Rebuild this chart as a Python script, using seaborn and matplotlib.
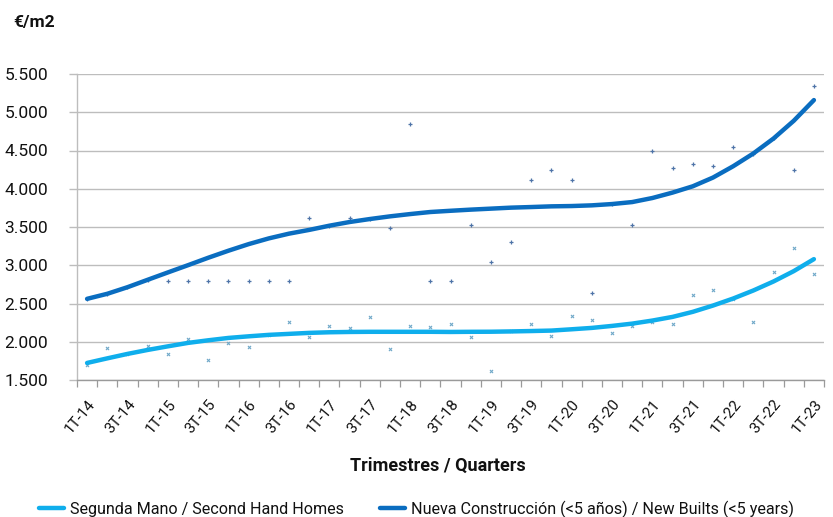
import matplotlib
matplotlib.use("Agg")
import matplotlib.pyplot as plt
from matplotlib.ticker import FuncFormatter, FixedLocator
import seaborn as sns
import pandas as pd
import numpy as np

quarters = ["1T-14", "2T-14", "3T-14", "4T-14", "1T-15", "2T-15", "3T-15", "4T-15",
            "1T-16", "2T-16", "3T-16", "4T-16", "1T-17", "2T-17", "3T-17", "4T-17",
            "1T-18", "2T-18", "3T-18", "4T-18", "1T-19", "2T-19", "3T-19", "4T-19",
            "1T-20", "2T-20", "3T-20", "4T-20", "1T-21", "2T-21", "3T-21", "4T-21",
            "1T-22", "2T-22", "3T-22", "4T-22", "1T-23"]

second_hand = [1700, 1920, 1840, 1945, 1841, 2032, 1766, 1989, 1936, 2090,
               2264, 2058, 2211, 2185, 2325, 1906, 2202, 2194, 2228, 2058,
               1622, 2135, 2237, 2080, 2342, 2281, 2120, 2202, 2255, 2237,
               2608, 2679, 2565, 2264, 2910, 3224, 2883]

new_builds = [2560, 2627, 2713, 2810, 2800, 2800, 2800, 2800, 2800, 2800,
              2800, 3620, 3517, 3620, 3604, 3490, 4850, 2800, 2800, 3530,
              3040, 3300, 4110, 4250, 4110, 2640, 3800, 3520, 4490, 4265,
              4320, 4300, 4550, 4460, 4657, 4250, 5345]

# trend lines
second_hand_trend = [1723, 1783, 1841, 1893, 1940, 1985, 2019, 2050, 2071, 2090,
                     2103, 2116, 2124, 2128, 2130, 2130, 2130, 2130, 2128, 2130,
                     2131, 2135, 2140, 2146, 2163, 2181, 2207, 2237, 2277, 2325,
                     2391, 2473, 2565, 2670, 2788, 2923, 3080]

new_builds_trend = [2561, 2627, 2713, 2810, 2906, 3001, 3098, 3190, 3276, 3351,
                    3413, 3462, 3517, 3565, 3604, 3639, 3669, 3696, 3712, 3727,
                    3740, 3753, 3761, 3770, 3774, 3783, 3800, 3826, 3879, 3950,
                    4032, 4146, 4294, 4461, 4657, 4888, 5159]

label_sh = "Segunda Mano / Second Hand Homes"
label_nb = "Nueva Construcción (<5 años) / New Builts (<5 years)"

LIGHT = "#0FAEEC"
DARK = "#0A6DC0"

sns.set_theme(style="white")
plt.rcParams["font.family"] = ["Roboto", "DejaVu Sans"]

df = pd.DataFrame({
    "idx": np.arange(len(quarters)),
    "quarter": quarters,
    "sh": second_hand,
    "nb": new_builds,
    "sh_t": second_hand_trend,
    "nb_t": new_builds_trend,
})

fig = plt.figure(figsize=(8.33, 5.17), dpi=100)
ax = fig.add_axes([77 / 833, 1 - 380 / 517, (824 - 77) / 833, (380 - 74) / 517])

sns.scatterplot(data=df, x="idx", y="nb", marker="+", s=8, color="#4F74A8",
                linewidth=0.9, ax=ax, zorder=2, legend=False)
sns.scatterplot(data=df, x="idx", y="sh", marker="x", s=5, color="#6FA8C8",
                linewidth=0.8, ax=ax, zorder=2, legend=False)
sns.lineplot(data=df, x="idx", y="sh_t", color=LIGHT, linewidth=3.2, ax=ax,
             zorder=3, label=label_sh, solid_capstyle="round")
sns.lineplot(data=df, x="idx", y="nb_t", color=DARK, linewidth=3.2, ax=ax,
             zorder=3, label=label_nb, solid_capstyle="round")

ax.set_xlim(-0.5, len(quarters) - 0.5)
ax.set_ylim(1500, 5500)
ax.set_yticks(np.arange(1500, 5501, 500))
ax.yaxis.set_major_formatter(FuncFormatter(lambda v, p: f"{v:,.0f}".replace(",", ".")))
ax.grid(axis="y", color="#BDBDBD", linewidth=1.0)
ax.set_axisbelow(True)

ax.set_xticks(np.arange(0, len(quarters), 2))
ax.set_xticklabels(quarters[::2], rotation=50, ha="right", va="top",
                   rotation_mode="anchor", fontsize=11, color="#111111")
ax.xaxis.set_minor_locator(FixedLocator(np.arange(-0.5, len(quarters), 1)))
ax.tick_params(axis="x", which="major", length=0, pad=12)
ax.tick_params(axis="x", which="minor", length=5, color="#9A9A9A", width=0.9,
               direction="out", bottom=True)
ax.tick_params(axis="y", which="major", length=6, color="#BDBDBD", width=1.0,
               pad=15, labelsize=12.5, labelcolor="#111111", left=True)

for s in ["top", "right"]:
    ax.spines[s].set_visible(False)
ax.spines["left"].set_color("#BDBDBD")
ax.spines["bottom"].set_color("#9A9A9A")
ax.spines["left"].set_linewidth(1.0)
ax.spines["bottom"].set_linewidth(1.0)

ax.set_xlabel("")
ax.set_ylabel("")
ax.legend_.remove()

fig.text(13 / 833, 1 - 22 / 517, "€/m2", ha="left", va="center",
         fontsize=12.5, fontweight="bold", color="#111111")
fig.text(437.5 / 833, 1 - 466 / 517, "Trimestres / Quarters", ha="center",
         va="center", fontsize=13, fontweight="bold", color="#111111")

handles, labels = ax.get_legend_handles_labels()
fig.legend(handles, labels, loc="center", bbox_to_anchor=(0.5, 1 - 509 / 517),
           ncol=2, frameon=False, fontsize=11.6, handlelength=1.55,
           columnspacing=2.3, handletextpad=0.35, labelcolor="#111111")

fig.savefig("out.png", dpi=100)
